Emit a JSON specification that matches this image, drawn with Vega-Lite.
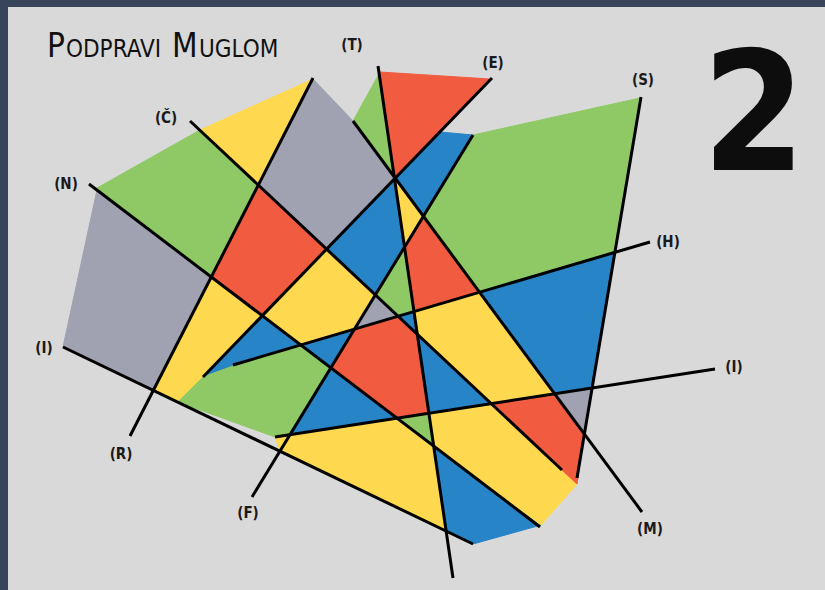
{
  "$schema": "https://vega.github.io/schema/vega-lite/v6.json",
  "width": 825,
  "height": 590,
  "autosize": {"type": "fit", "contains": "padding"},
  "padding": {"left": 8, "top": 7, "right": 0, "bottom": 0},
  "background": "#37445a",
  "config": {"view": {"stroke": null, "fill": "#d9d9da"}},
  "datasets": {
    "polys": [
      {"id":"G1","c":"green","i":1,"x":97,"y":188},{"id":"G1","c":"green","i":2,"x":200,"y":130},{"id":"G1","c":"green","i":3,"x":258,"y":185},{"id":"G1","c":"green","i":4,"x":211,"y":277},
      {"id":"Gy1","c":"grey","i":1,"x":97,"y":190},{"id":"Gy1","c":"grey","i":2,"x":211,"y":277},{"id":"Gy1","c":"grey","i":3,"x":153,"y":390},{"id":"Gy1","c":"grey","i":4,"x":63,"y":347},
      {"id":"Y1","c":"yellow","i":1,"x":200,"y":130},{"id":"Y1","c":"yellow","i":2,"x":313,"y":79},{"id":"Y1","c":"yellow","i":3,"x":258,"y":185},
      {"id":"Gy2","c":"grey","i":1,"x":313,"y":79},{"id":"Gy2","c":"grey","i":2,"x":353,"y":121},{"id":"Gy2","c":"grey","i":3,"x":395,"y":178},{"id":"Gy2","c":"grey","i":4,"x":327,"y":249},{"id":"Gy2","c":"grey","i":5,"x":258,"y":185},
      {"id":"R1","c":"red","i":1,"x":258,"y":185},{"id":"R1","c":"red","i":2,"x":327,"y":249},{"id":"R1","c":"red","i":3,"x":262,"y":316},{"id":"R1","c":"red","i":4,"x":211,"y":277},
      {"id":"Y2","c":"yellow","i":1,"x":211,"y":277},{"id":"Y2","c":"yellow","i":2,"x":262,"y":316},{"id":"Y2","c":"yellow","i":3,"x":203,"y":377},{"id":"Y2","c":"yellow","i":4,"x":178,"y":402},{"id":"Y2","c":"yellow","i":5,"x":153,"y":390},
      {"id":"B1","c":"blue","i":1,"x":262,"y":316},{"id":"B1","c":"blue","i":2,"x":203,"y":377},{"id":"B1","c":"blue","i":3,"x":233,"y":366},{"id":"B1","c":"blue","i":4,"x":301,"y":345},
      {"id":"G2","c":"green","i":1,"x":203,"y":377},{"id":"G2","c":"green","i":2,"x":233,"y":366},{"id":"G2","c":"green","i":3,"x":301,"y":345},{"id":"G2","c":"green","i":4,"x":331,"y":368},{"id":"G2","c":"green","i":5,"x":290,"y":435},{"id":"G2","c":"green","i":6,"x":275,"y":437},{"id":"G2","c":"green","i":7,"x":178,"y":402},
      {"id":"Y3","c":"yellow","i":1,"x":275,"y":437},{"id":"Y3","c":"yellow","i":2,"x":290,"y":435},{"id":"Y3","c":"yellow","i":3,"x":397,"y":418},{"id":"Y3","c":"yellow","i":4,"x":434,"y":446},{"id":"Y3","c":"yellow","i":5,"x":446,"y":531},{"id":"Y3","c":"yellow","i":6,"x":280,"y":451},
      {"id":"G6","c":"green","i":1,"x":397,"y":418},{"id":"G6","c":"green","i":2,"x":429,"y":413},{"id":"G6","c":"green","i":3,"x":434,"y":446},
      {"id":"B2","c":"blue","i":1,"x":434,"y":446},{"id":"B2","c":"blue","i":2,"x":541,"y":525},{"id":"B2","c":"blue","i":3,"x":473,"y":544},{"id":"B2","c":"blue","i":4,"x":446,"y":531},
      {"id":"Y4","c":"yellow","i":1,"x":429,"y":413},{"id":"Y4","c":"yellow","i":2,"x":491,"y":404},{"id":"Y4","c":"yellow","i":3,"x":577,"y":484},{"id":"Y4","c":"yellow","i":4,"x":541,"y":525},{"id":"Y4","c":"yellow","i":5,"x":434,"y":446},
      {"id":"R2","c":"red","i":1,"x":491,"y":404},{"id":"R2","c":"red","i":2,"x":555,"y":394},{"id":"R2","c":"red","i":3,"x":584,"y":434},{"id":"R2","c":"red","i":4,"x":577,"y":484},
      {"id":"Gy3","c":"grey","i":1,"x":555,"y":394},{"id":"Gy3","c":"grey","i":2,"x":592,"y":388},{"id":"Gy3","c":"grey","i":3,"x":584,"y":434},
      {"id":"B3","c":"blue","i":1,"x":480,"y":292},{"id":"B3","c":"blue","i":2,"x":615,"y":252},{"id":"B3","c":"blue","i":3,"x":592,"y":388},{"id":"B3","c":"blue","i":4,"x":555,"y":394},
      {"id":"G3","c":"green","i":1,"x":473,"y":135},{"id":"G3","c":"green","i":2,"x":640,"y":98},{"id":"G3","c":"green","i":3,"x":615,"y":252},{"id":"G3","c":"green","i":4,"x":480,"y":292},{"id":"G3","c":"green","i":5,"x":423,"y":216},
      {"id":"B4","c":"blue","i":1,"x":395,"y":178},{"id":"B4","c":"blue","i":2,"x":440,"y":132},{"id":"B4","c":"blue","i":3,"x":473,"y":135},{"id":"B4","c":"blue","i":4,"x":423,"y":216},
      {"id":"Y5","c":"yellow","i":1,"x":395,"y":178},{"id":"Y5","c":"yellow","i":2,"x":423,"y":216},{"id":"Y5","c":"yellow","i":3,"x":404.5,"y":247},
      {"id":"R3","c":"red","i":1,"x":423,"y":216},{"id":"R3","c":"red","i":2,"x":480,"y":292},{"id":"R3","c":"red","i":3,"x":414,"y":312},{"id":"R3","c":"red","i":4,"x":404.5,"y":247},
      {"id":"G5","c":"green","i":1,"x":353,"y":121},{"id":"G5","c":"green","i":2,"x":380,"y":72},{"id":"G5","c":"green","i":3,"x":395,"y":178},
      {"id":"R5","c":"red","i":1,"x":380,"y":72},{"id":"R5","c":"red","i":2,"x":490,"y":79},{"id":"R5","c":"red","i":3,"x":395,"y":178},
      {"id":"B5","c":"blue","i":1,"x":395,"y":178},{"id":"B5","c":"blue","i":2,"x":327,"y":249},{"id":"B5","c":"blue","i":3,"x":375,"y":295},{"id":"B5","c":"blue","i":4,"x":404.5,"y":247},
      {"id":"Y6","c":"yellow","i":1,"x":327,"y":249},{"id":"Y6","c":"yellow","i":2,"x":375,"y":295},{"id":"Y6","c":"yellow","i":3,"x":354.5,"y":329},{"id":"Y6","c":"yellow","i":4,"x":301,"y":345},{"id":"Y6","c":"yellow","i":5,"x":262,"y":316},
      {"id":"Gy4","c":"grey","i":1,"x":375,"y":295},{"id":"Gy4","c":"grey","i":2,"x":398,"y":316},{"id":"Gy4","c":"grey","i":3,"x":354.5,"y":329},
      {"id":"B6","c":"blue","i":1,"x":301,"y":345},{"id":"B6","c":"blue","i":2,"x":354.5,"y":329},{"id":"B6","c":"blue","i":3,"x":331,"y":368},
      {"id":"G4","c":"green","i":1,"x":404.5,"y":247},{"id":"G4","c":"green","i":2,"x":414,"y":312},{"id":"G4","c":"green","i":3,"x":398,"y":316},{"id":"G4","c":"green","i":4,"x":375,"y":295},
      {"id":"R4","c":"red","i":1,"x":354.5,"y":329},{"id":"R4","c":"red","i":2,"x":398,"y":316},{"id":"R4","c":"red","i":3,"x":417,"y":334},{"id":"R4","c":"red","i":4,"x":429,"y":413},{"id":"R4","c":"red","i":5,"x":397,"y":418},{"id":"R4","c":"red","i":6,"x":331,"y":368},
      {"id":"B7","c":"blue","i":1,"x":417,"y":334},{"id":"B7","c":"blue","i":2,"x":491,"y":404},{"id":"B7","c":"blue","i":3,"x":429,"y":413},
      {"id":"B9","c":"blue","i":1,"x":398,"y":316},{"id":"B9","c":"blue","i":2,"x":414,"y":312},{"id":"B9","c":"blue","i":3,"x":417,"y":334},
      {"id":"Y7","c":"yellow","i":1,"x":414,"y":312},{"id":"Y7","c":"yellow","i":2,"x":480,"y":292},{"id":"Y7","c":"yellow","i":3,"x":555,"y":394},{"id":"Y7","c":"yellow","i":4,"x":491,"y":404},{"id":"Y7","c":"yellow","i":5,"x":417,"y":334},
      {"id":"B8","c":"blue","i":1,"x":331,"y":368},{"id":"B8","c":"blue","i":2,"x":397,"y":418},{"id":"B8","c":"blue","i":3,"x":290,"y":435}
    ],
    "lines": [
      {"name":"Č","x":190,"y":121,"x2":562,"y2":470},
      {"name":"N","x":89,"y":184,"x2":540,"y2":527},
      {"name":"M","x":353,"y":121,"x2":642,"y2":512},
      {"name":"T","x":378,"y":66,"x2":453,"y2":578},
      {"name":"E","x":492,"y":78,"x2":203,"y2":377},
      {"name":"R","x":313,"y":78,"x2":130,"y2":436},
      {"name":"F","x":473,"y":135,"x2":252,"y2":497},
      {"name":"H","x":233,"y":365,"x2":650,"y2":242},
      {"name":"I","x":275,"y":437,"x2":715,"y2":369},
      {"name":"I2","x":63,"y":347,"x2":473,"y2":544},
      {"name":"S","x":641,"y":97,"x2":577,"y2":478}
    ],
    "labels": [
      {"t":"(T)","x":352,"y":45},{"t":"(E)","x":493,"y":63},{"t":"(S)","x":643,"y":80},
      {"t":"(H)","x":668,"y":242},{"t":"(I)","x":734,"y":367},{"t":"(M)","x":650,"y":529},
      {"t":"(F)","x":248,"y":513},{"t":"(R)","x":121,"y":454},{"t":"(I)","x":44,"y":348},
      {"t":"(N)","x":66,"y":184},{"t":"(Č)","x":166,"y":118}
    ],
    "titleBig": [{"t":"P","x":47,"y":57},{"t":"M","x":172,"y":57}],
    "titleSmall": [{"t":"ODPRAVI","x":66,"y":57},{"t":"UGLOM","x":199,"y":57}],
    "number": [{"t":"2","x":754,"y":170}]
  },
  "encoding": {
    "x": {"field": "x", "type": "quantitative", "scale": {"domain": [8, 825], "nice": false, "zero": false}, "axis": null},
    "y": {"field": "y", "type": "quantitative", "scale": {"domain": [7, 590], "nice": false, "zero": false, "reverse": true}, "axis": null}
  },
  "layer": [
    {
      "data": {"name": "polys"},
      "mark": {"type": "line", "interpolate": "linear-closed", "strokeWidth": 1},
      "encoding": {
        "detail": {"field": "id"},
        "order": {"field": "i", "type": "quantitative"},
        "fill": {"field": "c", "type": "nominal", "scale": {"domain": ["green","grey","yellow","red","blue"], "range": ["#8fc965","#a0a1b1","#fed94f","#f15b40","#2684c7"]}, "legend": null},
        "stroke": {"field": "c", "type": "nominal", "scale": {"domain": ["green","grey","yellow","red","blue"], "range": ["#8fc965","#a0a1b1","#fed94f","#f15b40","#2684c7"]}, "legend": null}
      }
    },
    {
      "data": {"name": "lines"},
      "mark": {"type": "rule", "color": "#000000", "strokeWidth": 3},
      "encoding": {
        "x2": {"field": "x2"},
        "y2": {"field": "y2"}
      }
    },
    {
      "data": {"name": "labels"},
      "mark": {"type": "text", "font": "DejaVu Sans Condensed, DejaVu Sans", "fontSize": 15, "fontWeight": "bold", "align": "center", "baseline": "middle", "color": "#1a1a1a"},
      "encoding": {"text": {"field": "t"}}
    },
    {
      "data": {"name": "titleBig"},
      "mark": {"type": "text", "font": "DejaVu Sans Condensed, DejaVu Sans", "fontSize": 33, "align": "left", "baseline": "alphabetic", "color": "#111111"},
      "encoding": {"text": {"field": "t"}}
    },
    {
      "data": {"name": "titleSmall"},
      "mark": {"type": "text", "font": "DejaVu Sans Condensed, DejaVu Sans", "fontSize": 24, "align": "left", "baseline": "alphabetic", "color": "#111111"},
      "encoding": {"text": {"field": "t"}}
    },
    {
      "data": {"name": "number"},
      "mark": {"type": "text", "font": "DejaVu Sans Condensed, DejaVu Sans", "fontSize": 165, "fontWeight": "bold", "align": "center", "baseline": "alphabetic", "color": "#0d0d0d"},
      "encoding": {"text": {"field": "t"}}
    }
  ]
}
